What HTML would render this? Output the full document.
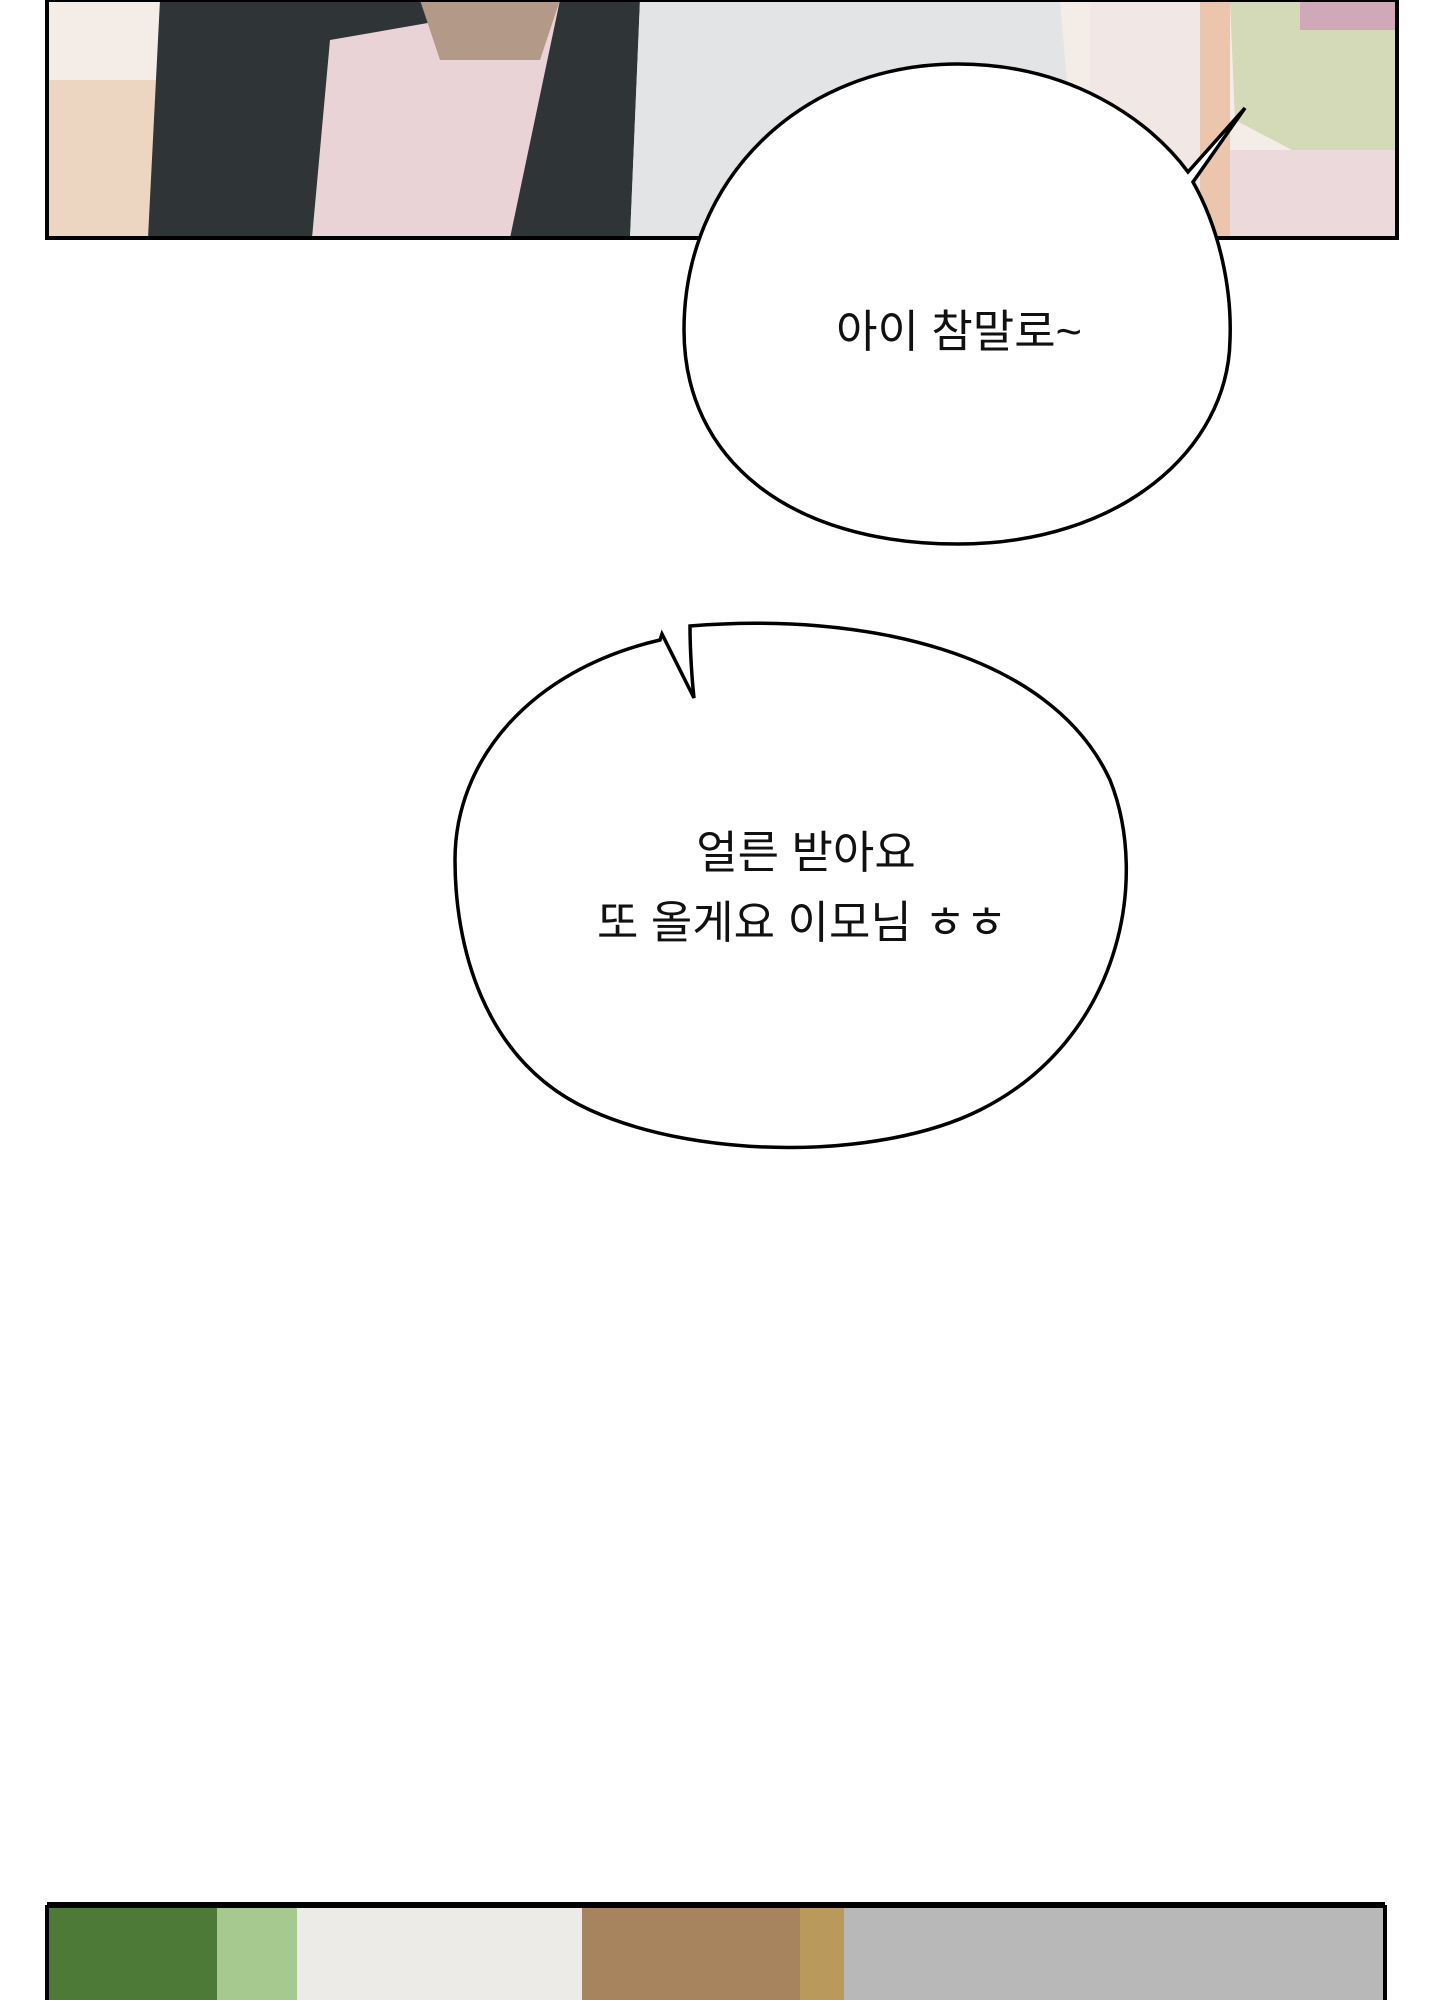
<!DOCTYPE html>
<html><head><meta charset="utf-8"><style>
html,body{margin:0;padding:0;background:#fff;width:1440px;height:2000px;overflow:hidden}
svg{position:absolute;left:0;top:0}
.t{font-family:"Liberation Sans","Noto Sans CJK KR",sans-serif;font-size:45px;fill:#111}
</style></head><body>
<svg width="1440" height="2000" viewBox="0 0 1440 2000">
<!-- top panel -->
<rect x="47" y="0" width="1350" height="238" fill="#f4ece6"/>
<rect x="47" y="80" width="110" height="158" fill="#ecd6c2"/>
<polygon points="160,0 640,0 630,238 148,238" fill="#2f3437"/>
<polygon points="330,40 560,0 510,238 312,238" fill="#e9d3d6"/>
<polygon points="420,0 560,0 540,60 440,60" fill="#b39a88"/>
<polygon points="640,0 1060,0 1080,238 630,238" fill="#e2e4e6"/>
<rect x="1090" y="0" width="140" height="238" fill="#f1e7e4"/>
<rect x="1200" y="0" width="30" height="238" fill="#ebc6ad"/>
<polygon points="1230,0 1397,0 1397,180 1330,170 1235,120" fill="#d4d9b8"/>
<rect x="1300" y="0" width="97" height="30" fill="#cfa9b8"/>
<rect x="1230" y="150" width="167" height="88" fill="#ecd9dc"/>
<rect x="47" y="0" width="1350" height="238" fill="none" stroke="#000" stroke-width="4"/>
<!-- bubble 1 -->
<path d="M958,64 C1070,64 1150,120 1188,172 L1245,108 L1193,182 C1220,230 1232,290 1230,340 C1228,450 1120,544 958,544 C790,544 684,460 684,330 C684,180 800,64 958,64 Z" fill="#fff" stroke="#000" stroke-width="3.5"/>
<text class="t" x="959" y="347" text-anchor="middle">아이 참말로~</text>
<!-- bubble 2 -->
<path d="M690,626 C860,612 1050,650 1110,780 C1150,880 1120,1040 980,1110 C880,1160 700,1160 590,1110 C480,1060 455,940 455,860 C455,760 530,670 660,640 L662,634 L694,698 C692,680 690,650 690,626 Z" fill="#fff" stroke="#000" stroke-width="3.5"/>
<text class="t" x="806" y="868" text-anchor="middle">얼른 받아요</text>
<text class="t" x="802" y="938" text-anchor="middle">또 올게요 이모님 ㅎㅎ</text>
<!-- bottom panel -->
<rect x="47" y="1905" width="250" height="95" fill="#a5c98e"/>
<rect x="47" y="1905" width="170" height="95" fill="#4e7a38"/>
<rect x="297" y="1905" width="285" height="95" fill="#ecebe7"/>
<rect x="582" y="1905" width="262" height="95" fill="#a7835e"/>
<rect x="800" y="1905" width="44" height="95" fill="#b9995c"/>
<rect x="844" y="1905" width="541" height="95" fill="#b8b8b8"/>
<line x1="47" y1="1905" x2="1385" y2="1905" stroke="#000" stroke-width="6"/>
<line x1="47" y1="1905" x2="47" y2="2000" stroke="#000" stroke-width="4"/>
<line x1="1385" y1="1905" x2="1385" y2="2000" stroke="#000" stroke-width="4"/>
</svg>
</body></html>
